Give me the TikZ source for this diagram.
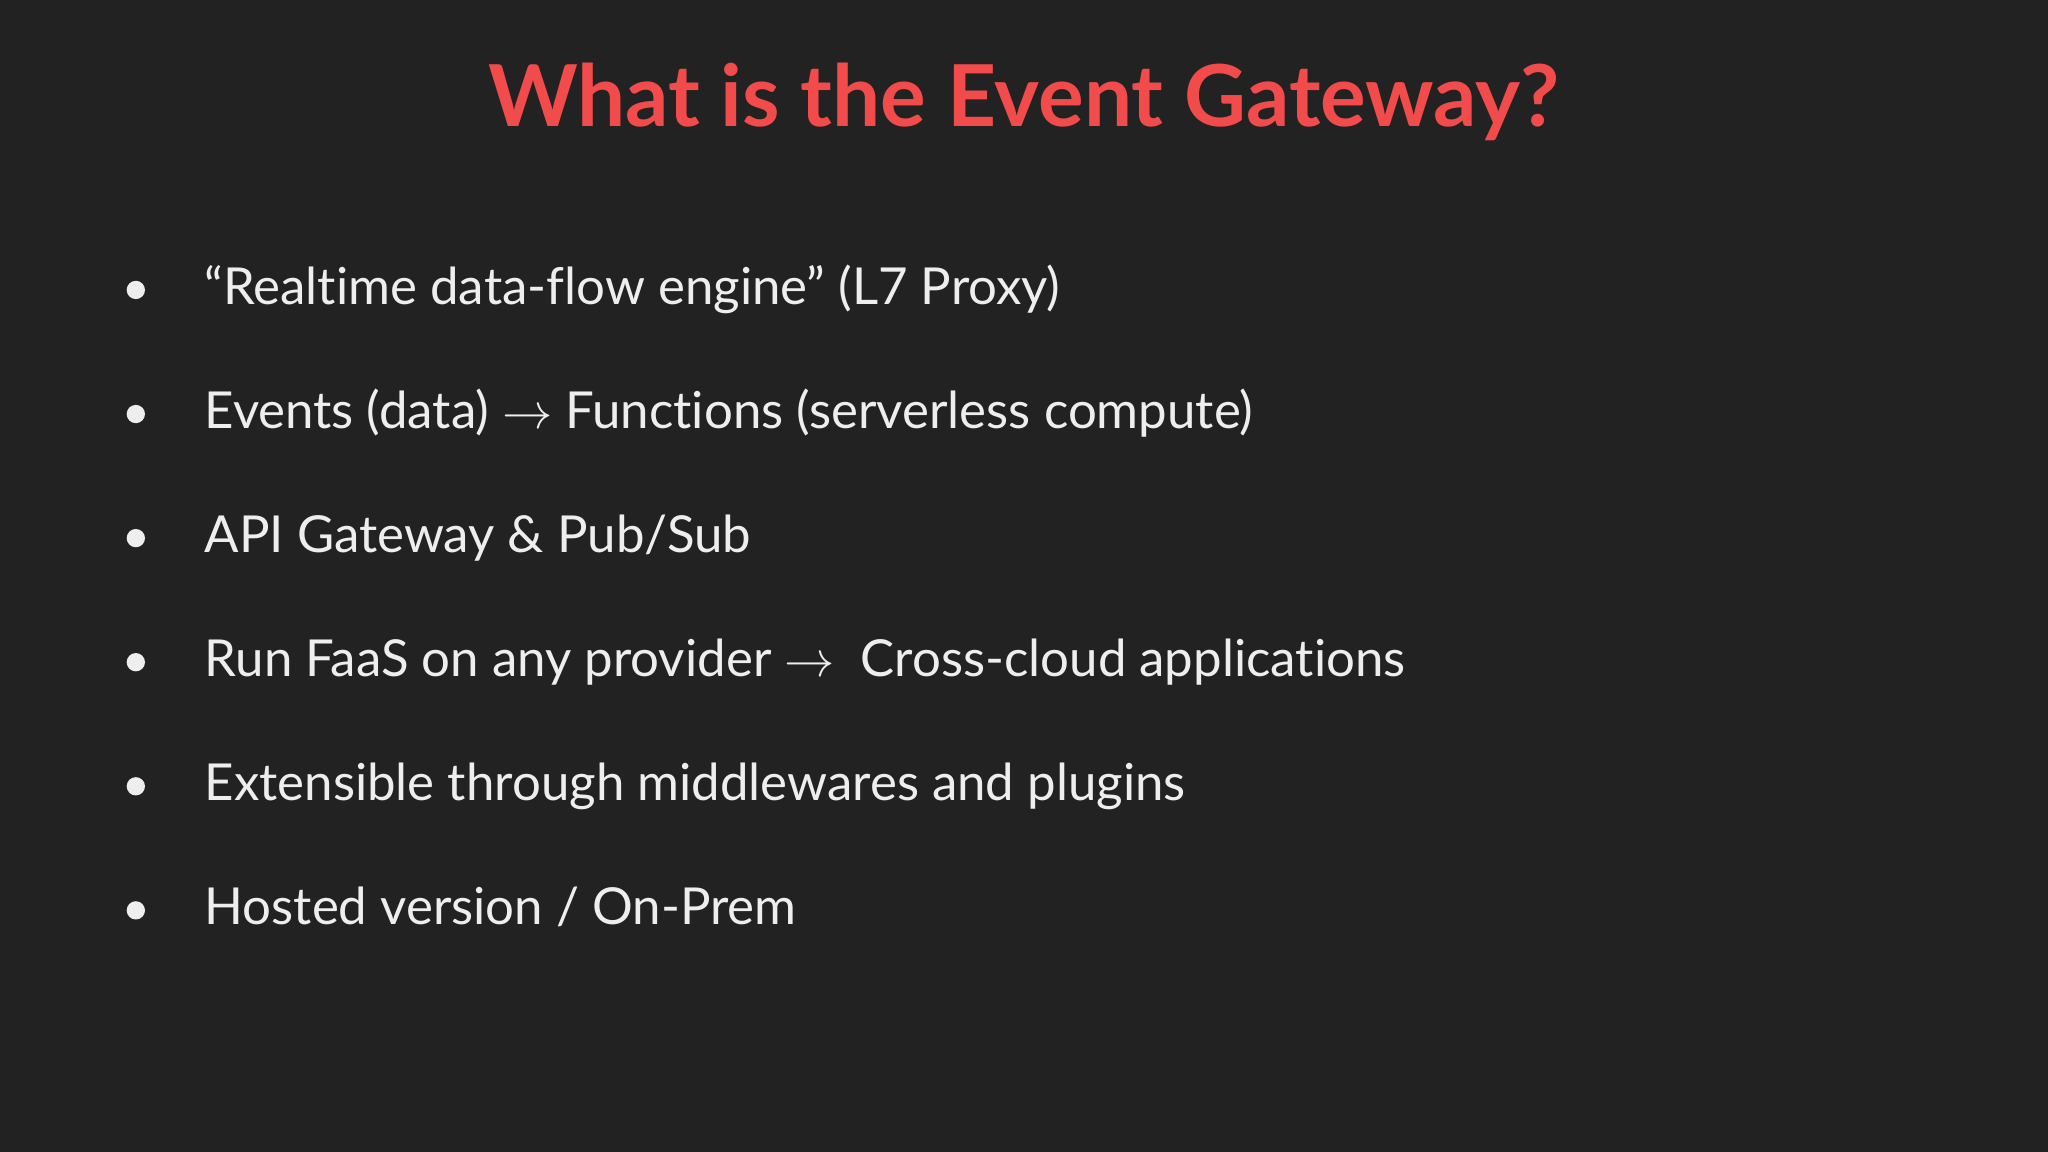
\documentclass[tikz,border=0pt]{standalone}
\usepackage{fontspec}
\setmainfont[Ligatures=NoCommon]{Lato}
\definecolor{bg}{HTML}{232223}
\definecolor{titlered}{HTML}{F24B4B}
\definecolor{fg}{HTML}{EEEEEE}
\begin{document}
\begin{tikzpicture}[x=0.01cm,y=-0.01cm,
  item/.style={anchor=base west,text=fg,font=\fontsize{11.1pt}{13pt}\selectfont,inner sep=0pt},
  dot/.style={circle,fill=fg,minimum size=0.14cm,inner sep=0pt}]
\fill[bg] (0,0) rectangle (1568,882);
\useasboundingbox (0,0) rectangle (1568,882);
\node[text=titlered,font=\fontsize{18.6pt}{22pt}\selectfont\bfseries,anchor=base,inner sep=0pt] (title) at (784,97) {What is the Event Gateway?};
\foreach \i/\y/\t in {1/233/{“Realtime data-flow engine” (L7 Proxy)},
 2/328/{Events (data) $\rightarrow$ Functions (serverless compute)},
 3/423/{API Gateway \& Pub/Sub},
 4/518/{Run FaaS on any provider $\rightarrow$\ \ Cross-cloud applications},
 5/613/{Extensible through middlewares and plugins},
 6/708/{Hosted version / On-Prem}}{
  \node[dot] (b\i) at (104,\y-11) {};
  \node[item] (t\i) at (156,\y) {\t};
}
\end{tikzpicture}
\end{document}
